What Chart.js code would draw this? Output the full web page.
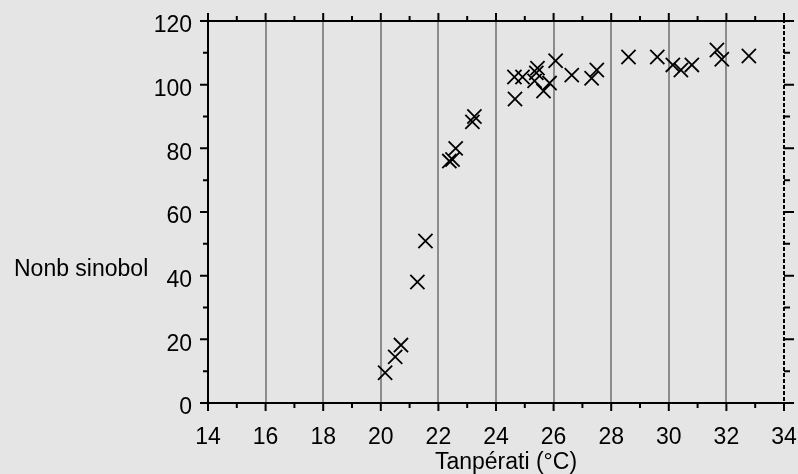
<!DOCTYPE html>
<html>
<head>
<meta charset="utf-8">
<title>Nonb sinobol vs Tanpérati</title>
<script src="https://cdn.jsdelivr.net/npm/chart.js"></script>
<style>
  html, body { margin: 0; padding: 0; background: #e5e5e5; }
  #wrap { width: 798px; height: 474px; }
</style>
</head>
<body>
<div id="wrap"><canvas id="chart" width="798" height="474"></canvas></div>
<script>
// data
const temperatures = [20.15, 20.5, 20.7, 21.27, 21.55, 22.38, 22.49, 22.6, 23.18, 23.25,
  24.66, 24.64, 24.92, 25.34, 25.4, 25.44, 25.65, 25.86, 26.07, 26.63,
  27.32, 27.5, 28.6, 29.6, 30.14, 30.42, 30.8, 31.67, 31.84, 32.78];
const counts = [9.5, 14.5, 18.2, 38, 50.9, 76, 76.5, 80, 88.3, 90,
  95.5, 102.4, 102.4, 101.2, 103.7, 105.2, 98, 100.5, 107.5, 103,
  102, 104.6, 108.7, 108.7, 106.2, 104.6, 106.2, 110.9, 108, 109];
const xTicks = [14, 16, 18, 20, 22, 24, 26, 28, 30, 32, 34];
const yTicks = [0, 20, 40, 60, 80, 100, 120];
const xLabel = 'Tanpérati (°C)';
const yLabel = 'Nonb sinobol';

const FONT = '"Liberation Sans", Arial, sans-serif';
const FSIZE = 23;

// no extra room for the edge tick labels, the frame is fixed
function noPad(s) {
  s.paddingLeft = 0; s.paddingRight = 0; s.paddingTop = 0; s.paddingBottom = 0;
}

// axes frame, minor ticks, dashed right edge and the two titles
const frame = {
  id: 'frame',
  afterDraw(chart) {
    const ctx = chart.ctx;
    const xs = chart.scales.x, ys = chart.scales.y;
    const L = xs.getPixelForValue(xTicks[0]);
    const R = xs.getPixelForValue(xTicks[xTicks.length - 1]);
    const T = ys.getPixelForValue(yTicks[yTicks.length - 1]);
    const B = ys.getPixelForValue(yTicks[0]);
    ctx.save();
    ctx.strokeStyle = '#000';
    ctx.lineWidth = 2;
    ctx.beginPath();
    ctx.moveTo(L, T); ctx.lineTo(L, B);
    ctx.moveTo(L - 1, B); ctx.lineTo(R + 10, B);
    ctx.moveTo(L - 1, T); ctx.lineTo(R + 10, T);
    for (let v = xTicks[0]; v <= xTicks[xTicks.length - 1]; v++) {
      const px = xs.getPixelForValue(v);
      const len = v % 2 === 0 ? 8 : 5;
      ctx.moveTo(px, B); ctx.lineTo(px, B + len);
      ctx.moveTo(px, T); ctx.lineTo(px, T - len);
    }
    for (let v = 0; v <= 120; v += 10) {
      const py = ys.getPixelForValue(v);
      const major = v % 20 === 0;
      ctx.moveTo(L, py); ctx.lineTo(L - (major ? 8 : 5), py);
      ctx.moveTo(R, py); ctx.lineTo(R + (major ? 10 : 6), py);
    }
    ctx.stroke();
    // dashed right border
    ctx.beginPath();
    ctx.setLineDash([4, 2]);
    ctx.moveTo(R, T - 8); ctx.lineTo(R, B + 8);
    ctx.stroke();
    ctx.setLineDash([]);
    // titles
    ctx.fillStyle = '#000';
    ctx.font = FSIZE + 'px ' + FONT;
    ctx.textBaseline = 'alphabetic';
    ctx.textAlign = 'left';
    ctx.fillText(yLabel, 14, 276);
    ctx.textAlign = 'center';
    ctx.fillText(xLabel, 506, 469);
    ctx.restore();
  }
};

new Chart(document.getElementById('chart'), {
  type: 'scatter',
  data: {
    datasets: [{
      data: temperatures.map((t, i) => ({ x: t, y: counts[i] })),
      pointStyle: 'crossRot',
      pointRadius: 10,
      borderColor: '#000',
      backgroundColor: '#000',
      borderWidth: 1.8
    }]
  },
  options: {
    responsive: false,
    animation: false,
    events: [],
    layout: { padding: { left: 0, top: 21, right: 14, bottom: 0 } },
    plugins: { legend: { display: false }, tooltip: { enabled: false } },
    scales: {
      x: {
        type: 'linear',
        min: 14,
        max: 34,
        afterBuildTicks: (s) => { s.ticks = xTicks.map(v => ({ value: v })); },
        afterFit: (s) => { s.height = 71; noPad(s); },
        border: { display: false },
        grid: {
          drawTicks: false,
          lineWidth: 2,
          color: (c) => (c.tick && (c.tick.value === 14 || c.tick.value === 34)) ? 'rgba(0,0,0,0)' : '#8c8c8c'
        },
        ticks: {
          padding: 21,
          maxRotation: 0,
          autoSkip: false,
          color: '#000',
          font: { family: FONT, size: FSIZE }
        }
      },
      y: {
        type: 'linear',
        min: 0,
        max: 120,
        afterBuildTicks: (s) => { s.ticks = yTicks.map(v => ({ value: v })); },
        afterFit: (s) => { s.width = 208; noPad(s); },
        border: { display: false },
        grid: { display: false, drawTicks: false },
        ticks: {
          padding: 16,
          labelOffset: 5,
          color: '#000',
          font: { family: FONT, size: FSIZE }
        }
      }
    }
  },
  plugins: [frame]
});
</script>
</body>
</html>
